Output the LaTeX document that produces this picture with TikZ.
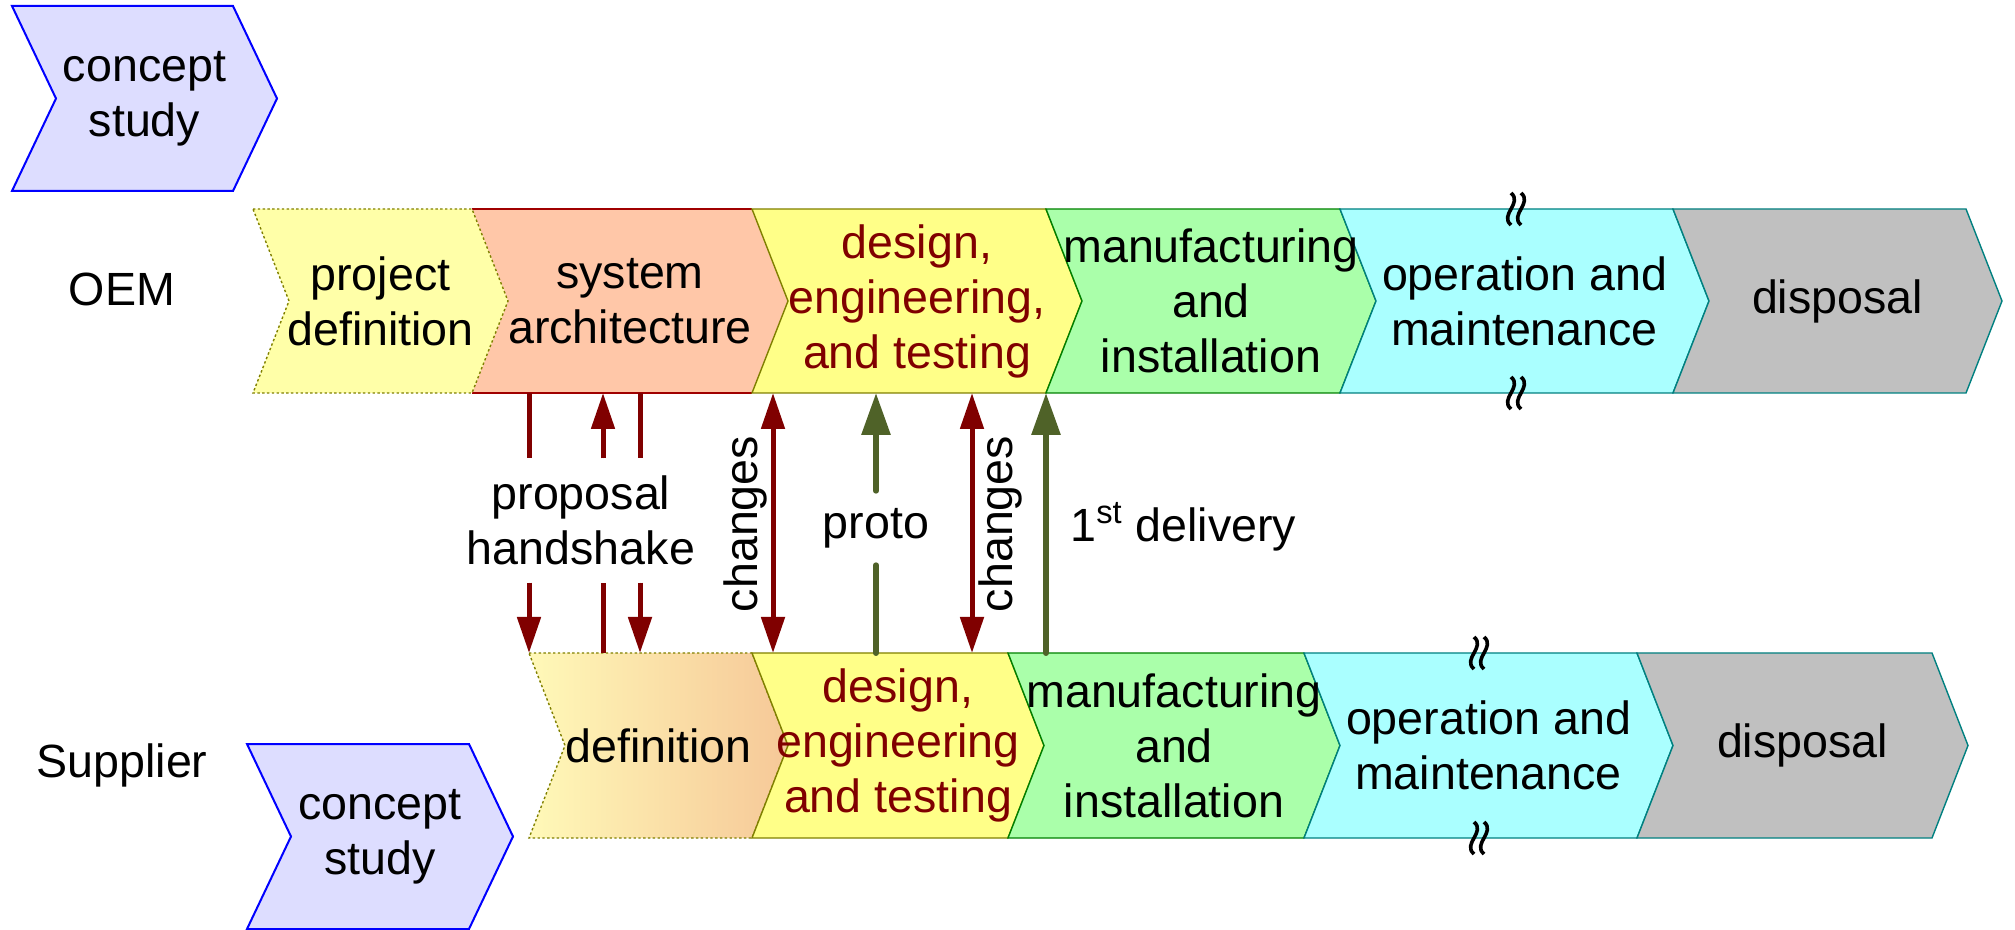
\documentclass[tikz,border=0pt]{standalone}
\usepackage{fontspec}
\setmainfont{Liberation Sans}
\usetikzlibrary{arrows.meta,calc,positioning}
\definecolor{conceptfill}{RGB}{221,221,255}
\definecolor{projfill}{RGB}{255,255,168}
\definecolor{archfill}{RGB}{255,199,168}
\definecolor{archedge}{RGB}{160,0,0}
\definecolor{designfill}{RGB}{255,255,136}
\definecolor{manufill}{RGB}{170,255,170}
\definecolor{manuedge}{RGB}{0,128,0}
\definecolor{operfill}{RGB}{170,255,255}
\definecolor{dispfill}{RGB}{192,192,192}
\definecolor{edgeolive}{RGB}{128,128,0}
\definecolor{sdefleft}{RGB}{255,249,184}
\definecolor{sdefright}{RGB}{246,200,152}
\definecolor{darkred}{RGB}{128,0,0}
\definecolor{arrowgreen}{RGB}{79,98,40}
\tikzset{
lbl/.style={align=center, font=\fontsize{23.3}{27.5}\selectfont, inner sep=1pt},
gaplbl/.style={lbl, inner ysep=8.5pt},
concept/.style={draw=blue, line width=1pt, fill=conceptfill},
box/.style={line width=0.7pt},
dotbox/.style={draw=edgeolive, line width=0.7pt, dash pattern=on 1.2pt off 1.2pt},
squig/.style={line width=1.8pt},
redarrow/.style={draw=darkred, line width=2.5pt},
greenarrow/.style={draw=arrowgreen, line width=3pt, line cap=round},
redtip/.style={-{Triangle[length=18pt,width=11.5pt]}, fill=darkred},
redboth/.style={{Triangle[length=18pt,width=11.5pt]}-{Triangle[length=18pt,width=11.5pt]}, fill=darkred},
greentip/.style={-{Triangle[length=21pt,width=14pt]}, fill=arrowgreen},
}

\begin{document}
\begin{tikzpicture}[x=0.5pt,y=0.5pt,yscale=-1]
\useasboundingbox (0,0) rectangle (2015,930);
%Concept study (OEM)
\draw[concept] (12,6) -- (233,6) -- (277,98.5) -- (233,191) -- (12,191) -- (56,98.5) -- cycle;
\node[lbl] (concA) at (144.5,98.5) {concept\\study};
%OEM row
\fill[archfill] (472,209) -- (752,209) -- (788,301) -- (752,393) -- (472,393) -- (508,301) -- cycle;
\draw[box,draw=archedge] (472,209) -- (752,209) (472,393) -- (752,393);
\draw[box,draw=edgeolive,fill=designfill] (752,209) -- (1046,209) -- (1082,301) -- (1046,393) -- (752,393) -- (788,301) -- cycle;
\draw[box,draw=manuedge,fill=manufill] (1046,209) -- (1340,209) -- (1376,301) -- (1340,393) -- (1046,393) -- (1082,301) -- cycle;
\draw[box,draw=teal,fill=operfill] (1340,209) -- (1673,209) -- (1709,301) -- (1673,393) -- (1340,393) -- (1376,301) -- cycle;
\draw[box,draw=teal,fill=dispfill] (1673,209) -- (1966,209) -- (2002,301) -- (1966,393) -- (1673,393) -- (1709,301) -- cycle;
\draw[dotbox,fill=projfill] (253,209) -- (472,209) -- (508,301) -- (472,393) -- (253,393) -- (289,301) -- cycle;
\node[lbl] (projdef) at (380.5,301) {project\\definition};
\node[lbl] (sysarch) at (630,301) {system\\architecture};
\node[lbl,text=darkred] (design) at (917,301) {design,\\engineering,\\and testing};
\node[lbl] (manuf) at (1211,301) {manufacturing\\and\\installation};
\node[lbl] (oper) at (1524.5,301) {operation and\\maintenance};
\node[lbl] (disp) at (1837.5,301) {disposal};
%Supplier row
\draw[dotbox,left color=sdefleft,right color=sdefright] (529,653) -- (752,653) -- (788,745.5) -- (752,838) -- (529,838) -- (565,745.5) -- cycle;
\draw[box,draw=edgeolive,fill=designfill] (752,653) -- (1008,653) -- (1044,745.5) -- (1008,838) -- (752,838) -- (788,745.5) -- cycle;
\draw[box,draw=manuedge,fill=manufill] (1008,653) -- (1304,653) -- (1340,745.5) -- (1304,838) -- (1008,838) -- (1044,745.5) -- cycle;
\draw[box,draw=teal,fill=operfill] (1304,653) -- (1637,653) -- (1673,745.5) -- (1637,838) -- (1304,838) -- (1340,745.5) -- cycle;
\draw[box,draw=teal,fill=dispfill] (1637,653) -- (1932,653) -- (1968,745.5) -- (1932,838) -- (1637,838) -- (1673,745.5) -- cycle;
\node[lbl] (sdef) at (658.5,745.5) {definition};
\node[lbl,text=darkred] (sdesign) at (898,745.5) {design,\\engineering\\and testing};
\node[lbl] (smanuf) at (1174,745.5) {manufacturing\\and\\installation};
\node[lbl] (soper) at (1488.5,745.5) {operation and\\maintenance};
\node[lbl] (sdisp) at (1802.5,745.5) {disposal};
%Concept study (Supplier)
\draw[concept] (247,744) -- (469,744) -- (513,836.5) -- (469,929) -- (247,929) -- (291,836.5) -- cycle;
\node[lbl] (concB) at (380,836.5) {concept\\study};
%Row labels
\node[lbl] (oem) at (122,289) {OEM};
\node[lbl] (supp) at (122,765) {Supplier};
%Squiggles
\foreach \sx/\sy in {1516/209,1516/393,1479/653,1479/838}
  \foreach \dx in {-5,5}
    \draw[squig] (\sx+\dx,\sy-16) .. controls (\sx+\dx+12,\sy-6) and (\sx+\dx-12,\sy+6) .. (\sx+\dx,\sy+16);
%Interface points
\coordinate (o1) at (529,393); \coordinate (s1) at (529,653);
\coordinate (o2) at (603,393); \coordinate (s2) at (603,653);
\coordinate (o3) at (640,393); \coordinate (s3) at (640,653);
\coordinate (o4) at (773,393); \coordinate (s4) at (773,653);
\coordinate (o5) at (876,393); \coordinate (s5) at (876,653);
\coordinate (o6) at (972,393); \coordinate (s6) at (972,653);
\coordinate (o7) at (1046,393); \coordinate (s7) at (1046,653);
%Arrow labels
\node[gaplbl] (prop) at (581,520.5) {proposal\\handshake};
\node[gaplbl] (proto) at (876,528) {proto};
\node[lbl,rotate=90] (chgA) at (745,524) {changes};
\node[lbl,rotate=90] (chgB) at (1000,524) {changes};
\node[lbl,anchor=west] (dlv) at (1068,527) {1\textsuperscript{st} delivery};
%Arrows
\draw[redarrow] (o1) -- (o1 |- prop.north);
\draw[redarrow,redtip] (s1 |- prop.south) -- (s1);
\draw[redarrow,redtip] (o2 |- prop.north) -- (o2);
\draw[redarrow] (s2) -- (s2 |- prop.south);
\draw[redarrow] (o3) -- (o3 |- prop.north);
\draw[redarrow,redtip] (s3 |- prop.south) -- (s3);
\draw[redarrow,redboth] (o4) -- (s4);
\draw[greenarrow,greentip] (proto.north) -- (o5);
\draw[greenarrow] (s5) -- (proto.south);
\draw[redarrow,redboth] (o6) -- (s6);
\draw[greenarrow,greentip] (s7) -- (o7);
\end{tikzpicture}
\end{document}
